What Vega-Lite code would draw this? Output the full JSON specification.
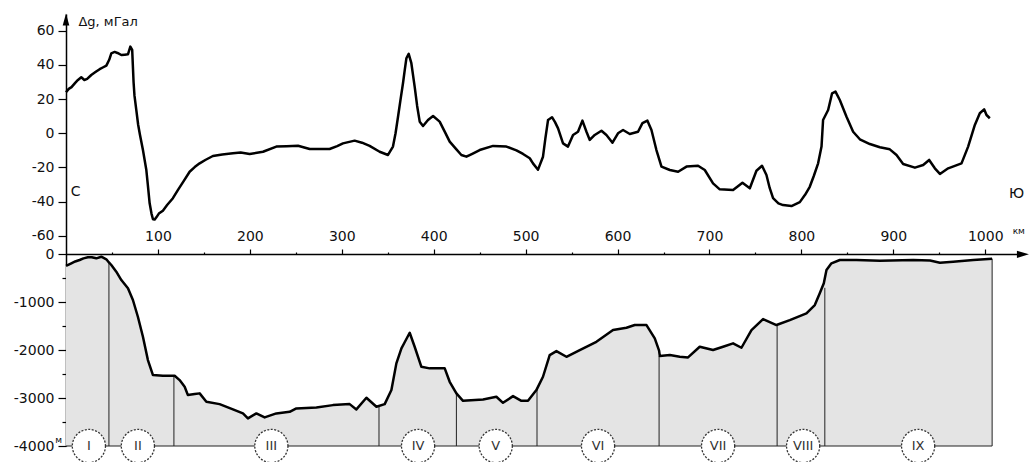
{
  "$schema": "https://vega.github.io/schema/vega-lite/v6.json",
  "width": 956,
  "height": 432,
  "autosize": "none",
  "padding": {"left": 66, "top": 14, "right": 8, "bottom": 16},
  "background": "white",
  "config": {
    "view": {"stroke": null},
    "axis": {"grid": false, "labelFont": "DejaVu Sans", "labelFontSize": 14, "labelColor": "#111", "domainColor": "#000", "tickColor": "#000"}
  },
  "datasets": {
    "one": [{}],
    "grav": [
      {"km": 0, "g": 24}, {"km": 3, "g": 26}, {"km": 6, "g": 27}, {"km": 10, "g": 29.5}, {"km": 13, "g": 31.2},
      {"km": 16.6, "g": 32.8}, {"km": 20, "g": 31.2}, {"km": 23, "g": 31.8}, {"km": 27.5, "g": 34.1}, {"km": 32, "g": 35.8},
      {"km": 36.6, "g": 37.5}, {"km": 40, "g": 38.5}, {"km": 43.9, "g": 39.6}, {"km": 47, "g": 43}, {"km": 49.3, "g": 46.8},
      {"km": 52.9, "g": 47.6}, {"km": 56, "g": 47}, {"km": 60.2, "g": 45.8}, {"km": 64, "g": 46}, {"km": 67.4, "g": 46.2},
      {"km": 70, "g": 50.7}, {"km": 72, "g": 48.8}, {"km": 73.5, "g": 30}, {"km": 74.5, "g": 22}, {"km": 76.5, "g": 13.6},
      {"km": 78.5, "g": 5}, {"km": 80.5, "g": -1}, {"km": 83.7, "g": -9.8}, {"km": 87.4, "g": -21.5}, {"km": 89, "g": -30},
      {"km": 91, "g": -41}, {"km": 93, "g": -47}, {"km": 94.6, "g": -50.3}, {"km": 96.5, "g": -50.5}, {"km": 98.3, "g": -49.2},
      {"km": 101, "g": -47}, {"km": 105.4, "g": -45.3}, {"km": 110, "g": -42}, {"km": 116.3, "g": -38}, {"km": 122, "g": -33},
      {"km": 128, "g": -28}, {"km": 134.5, "g": -22.5}, {"km": 140, "g": -19.8}, {"km": 145.4, "g": -17.6}, {"km": 152, "g": -15.5},
      {"km": 159.8, "g": -13.3}, {"km": 170, "g": -12.4}, {"km": 181.6, "g": -11.7}, {"km": 190, "g": -11.3}, {"km": 199.8, "g": -12.1},
      {"km": 214.3, "g": -10.8}, {"km": 228.8, "g": -7.8}, {"km": 240, "g": -7.6}, {"km": 252.4, "g": -7.3}, {"km": 265.1, "g": -9.2},
      {"km": 286.8, "g": -9.2}, {"km": 295, "g": -7.5}, {"km": 301.3, "g": -5.9}, {"km": 314, "g": -4.3}, {"km": 322, "g": -5.5},
      {"km": 330.3, "g": -7.4}, {"km": 341.2, "g": -10.8}, {"km": 350.3, "g": -12.7}, {"km": 355.7, "g": -7.8}, {"km": 358.5, "g": 0},
      {"km": 361.2, "g": 9.7}, {"km": 364, "g": 20}, {"km": 366.6, "g": 29.3}, {"km": 368.5, "g": 37}, {"km": 370.3, "g": 43.9},
      {"km": 372.8, "g": 46.5}, {"km": 375.7, "g": 41}, {"km": 379.3, "g": 27.3}, {"km": 382, "g": 16}, {"km": 384.8, "g": 6.8},
      {"km": 388.4, "g": 4.3}, {"km": 393.8, "g": 7.8}, {"km": 399.3, "g": 10.1}, {"km": 406.5, "g": 6.8}, {"km": 412, "g": 1},
      {"km": 417.4, "g": -4.9}, {"km": 424, "g": -9}, {"km": 430.1, "g": -12.7}, {"km": 435.6, "g": -13.7}, {"km": 442, "g": -12},
      {"km": 450, "g": -9.8}, {"km": 464.6, "g": -7.4}, {"km": 479.1, "g": -7.8}, {"km": 490, "g": -10}, {"km": 497.2, "g": -12.1},
      {"km": 504.5, "g": -14.6}, {"km": 508, "g": -17.6}, {"km": 513.5, "g": -21.3}, {"km": 518.9, "g": -13.7}, {"km": 521.5, "g": -3},
      {"km": 524.4, "g": 7.8}, {"km": 528.7, "g": 9.4}, {"km": 532, "g": 6.5}, {"km": 535.3, "g": 2.9}, {"km": 540.7, "g": -5.9},
      {"km": 546.1, "g": -7.8}, {"km": 551.6, "g": -1}, {"km": 557, "g": 0.9}, {"km": 561.8, "g": 7.4}, {"km": 566.2, "g": 0.9},
      {"km": 569.8, "g": -3.9}, {"km": 575.2, "g": -1}, {"km": 582.5, "g": 1.5}, {"km": 587.9, "g": -1}, {"km": 594.5, "g": -5.5},
      {"km": 600.5, "g": 0}, {"km": 606, "g": 1.9}, {"km": 613.3, "g": -0.4}, {"km": 622.3, "g": 0.9}, {"km": 627.1, "g": 5.9},
      {"km": 632.5, "g": 7.4}, {"km": 636.9, "g": 1.9}, {"km": 642.3, "g": -9.8}, {"km": 647.8, "g": -19.5}, {"km": 656.9, "g": -21.5},
      {"km": 665.9, "g": -22.5}, {"km": 675, "g": -19.5}, {"km": 687.6, "g": -19}, {"km": 694.9, "g": -21.5}, {"km": 703.9, "g": -29.3},
      {"km": 711.2, "g": -32.8}, {"km": 725.7, "g": -33.2}, {"km": 735.9, "g": -28.9}, {"km": 743.9, "g": -32.2}, {"km": 751.1, "g": -21.9},
      {"km": 757.2, "g": -19}, {"km": 762, "g": -24.4}, {"km": 765.5, "g": -32}, {"km": 769.2, "g": -38}, {"km": 775, "g": -41},
      {"km": 780.1, "g": -42}, {"km": 789.2, "g": -42.6}, {"km": 798.3, "g": -40.3}, {"km": 804, "g": -36}, {"km": 809.1, "g": -31.3},
      {"km": 813.5, "g": -25}, {"km": 818.2, "g": -17.6}, {"km": 821.9, "g": -7.8}, {"km": 823.6, "g": 7.8}, {"km": 829.1, "g": 13.6},
      {"km": 833.4, "g": 23.4}, {"km": 837.1, "g": 24.4}, {"km": 841.8, "g": 19.5}, {"km": 849.1, "g": 9.7}, {"km": 856.3, "g": 0.9},
      {"km": 863.6, "g": -3.5}, {"km": 874.5, "g": -6.3}, {"km": 885.4, "g": -8.2}, {"km": 896.2, "g": -9.4}, {"km": 903.5, "g": -12.7},
      {"km": 910.7, "g": -18}, {"km": 923.5, "g": -20.1}, {"km": 932.5, "g": -18.6}, {"km": 939, "g": -15.6}, {"km": 945.2, "g": -20.5},
      {"km": 950.7, "g": -23.8}, {"km": 959.7, "g": -20.5}, {"km": 974.2, "g": -17.6}, {"km": 981.4, "g": -7.8}, {"km": 988.7, "g": 4.9},
      {"km": 994.1, "g": 11.7}, {"km": 998.8, "g": 14}, {"km": 1001.4, "g": 10.7}, {"km": 1005, "g": 8.8}
    ],
    "bath": [
      {"km": 0, "depth": -244}, {"km": 5.8, "depth": -189}, {"km": 10, "depth": -150}, {"km": 14.8, "depth": -119}, {"km": 19, "depth": -85},
      {"km": 23.8, "depth": -63}, {"km": 28, "depth": -60}, {"km": 33, "depth": -84}, {"km": 38.4, "depth": -50}, {"km": 43.9, "depth": -104},
      {"km": 46.7, "depth": -170}, {"km": 49.3, "depth": -223}, {"km": 54.7, "depth": -363}, {"km": 60.2, "depth": -537}, {"km": 67.4, "depth": -710},
      {"km": 72.8, "depth": -954}, {"km": 78.2, "depth": -1303}, {"km": 83.7, "depth": -1721}, {"km": 89.1, "depth": -2207}, {"km": 94.6, "depth": -2520},
      {"km": 105.4, "depth": -2535}, {"km": 118.2, "depth": -2535}, {"km": 123.6, "depth": -2625}, {"km": 129.1, "depth": -2764}, {"km": 132.6, "depth": -2938},
      {"km": 140, "depth": -2917}, {"km": 145.4, "depth": -2902}, {"km": 152.7, "depth": -3078}, {"km": 167.1, "depth": -3126}, {"km": 181.6, "depth": -3237},
      {"km": 192.5, "depth": -3320}, {"km": 197.9, "depth": -3424}, {"km": 207.1, "depth": -3320}, {"km": 216.1, "depth": -3403}, {"km": 228.8, "depth": -3320},
      {"km": 243.3, "depth": -3287}, {"km": 250.6, "depth": -3216}, {"km": 272.4, "depth": -3195}, {"km": 290.4, "depth": -3147}, {"km": 308.6, "depth": -3126},
      {"km": 315.9, "depth": -3237}, {"km": 326.8, "depth": -2994}, {"km": 337.7, "depth": -3182}, {"km": 346.7, "depth": -3126}, {"km": 354, "depth": -2833},
      {"km": 359.4, "depth": -2276}, {"km": 364.9, "depth": -1963}, {"km": 368, "depth": -1850}, {"km": 373.9, "depth": -1637}, {"km": 379.3, "depth": -1929},
      {"km": 386.6, "depth": -2347}, {"km": 395.6, "depth": -2380}, {"km": 412, "depth": -2380}, {"km": 417.4, "depth": -2660}, {"km": 424.7, "depth": -2902},
      {"km": 431.9, "depth": -3057}, {"km": 453.7, "depth": -3028}, {"km": 468.2, "depth": -2973}, {"km": 475.4, "depth": -3099}, {"km": 486.3, "depth": -2959},
      {"km": 495.4, "depth": -3057}, {"km": 502.6, "depth": -3057}, {"km": 511.7, "depth": -2833}, {"km": 518.9, "depth": -2555}, {"km": 526.2, "depth": -2103},
      {"km": 533.5, "depth": -2019}, {"km": 544.4, "depth": -2138}, {"km": 558.9, "depth": -1998}, {"km": 577, "depth": -1825}, {"km": 595.1, "depth": -1581},
      {"km": 609.7, "depth": -1533}, {"km": 618.7, "depth": -1476}, {"km": 631.5, "depth": -1476}, {"km": 640.5, "depth": -1754}, {"km": 645.2, "depth": -2010},
      {"km": 646, "depth": -2124}, {"km": 656.9, "depth": -2103}, {"km": 667.7, "depth": -2138}, {"km": 676.7, "depth": -2151}, {"km": 689.4, "depth": -1929},
      {"km": 703.9, "depth": -1998}, {"km": 714.8, "depth": -1929}, {"km": 725.7, "depth": -1858}, {"km": 734.8, "depth": -1950}, {"km": 745.7, "depth": -1581},
      {"km": 758.3, "depth": -1351}, {"km": 772.9, "depth": -1476}, {"km": 787.4, "depth": -1372}, {"km": 805.5, "depth": -1232}, {"km": 814.6, "depth": -1059},
      {"km": 820, "depth": -814}, {"km": 824.4, "depth": -605}, {"km": 827.3, "depth": -328}, {"km": 832.7, "depth": -188}, {"km": 841.8, "depth": -119},
      {"km": 860, "depth": -119}, {"km": 885.4, "depth": -133}, {"km": 921.7, "depth": -119}, {"km": 940, "depth": -130}, {"km": 950.7, "depth": -175},
      {"km": 965.1, "depth": -154}, {"km": 987, "depth": -119}, {"km": 1007.5, "depth": -92}
    ],
    "div": [
      {"km": 46.7, "depth": -170}, {"km": 117.4, "depth": -2535}, {"km": 340.5, "depth": -3182}, {"km": 424.7, "depth": -2902},
      {"km": 512.4, "depth": -2800}, {"km": 645.2, "depth": -2124}, {"km": 773.6, "depth": -1476}, {"km": 825.5, "depth": -700},
      {"km": 1007.5, "depth": -92}
    ],
    "zones": [
      {"km": 24.9, "zone": "I"}, {"km": 78.2, "zone": "II"}, {"km": 223.4, "zone": "III"}, {"km": 383, "zone": "IV"},
      {"km": 467.5, "zone": "V"}, {"km": 578.8, "zone": "VI"}, {"km": 709.4, "zone": "VII"}, {"km": 801.9, "zone": "VIII"},
      {"km": 927, "zone": "IX"}
    ]
  },
  "resolve": {"scale": {"y": "independent"}, "axis": {"y": "independent"}},
  "layer": [
    {
      "layer": [
        {
          "data": {"name": "grav"},
          "mark": {"type": "line", "color": "#000", "strokeWidth": 2.5, "strokeJoin": "round"},
          "encoding": {
            "x": {"field": "km", "type": "quantitative", "scale": {"domain": [0, 1040], "nice": false, "zero": false},
              "axis": {"orient": "top", "offset": -240, "values": [50, 100, 150, 200, 250, 300, 350, 400, 450, 500, 550, 600, 650, 700, 750, 800, 850, 900, 950, 1000],
                "labelExpr": "datum.value % 100 === 0 ? '' + datum.value : ''",
                "tickSize": {"condition": {"test": "datum.value % 100 !== 0", "value": 2}, "value": 5},
                "labelPadding": 6, "domainWidth": 1.5, "tickWidth": 1.2, "title": null}},
            "y": {"field": "g", "type": "quantitative", "scale": {"domain": [-183, 69.8], "nice": false, "zero": false},
              "axis": {"orient": "left", "values": [-60, -50, -40, -30, -20, -10, 0, 10, 20, 30, 40, 50, 60],
                "labelExpr": "datum.value % 20 === 0 ? (datum.value < 0 ? '-' : '') + abs(datum.value) : ''",
                "tickSize": {"condition": {"test": "datum.value % 20 !== 0", "value": 4}, "value": 8},
                "labelPadding": 4, "domainWidth": 1.5, "tickWidth": 1.2, "title": null}}
          }
        },
        {
          "data": {"name": "one"},
          "mark": {"type": "text", "text": "Δg, мГал", "align": "left", "baseline": "middle", "font": "DejaVu Sans", "fontSize": 13, "color": "#111"},
          "encoding": {
            "x": {"datum": 13.5, "type": "quantitative", "scale": {"domain": [0, 1040], "nice": false, "zero": false}},
            "y": {"datum": 65, "type": "quantitative", "scale": {"domain": [-183, 69.8], "nice": false, "zero": false}}
          }
        },
        {
          "data": {"name": "one"},
          "mark": {"type": "text", "text": "С", "align": "center", "baseline": "middle", "font": "DejaVu Sans", "fontSize": 14, "color": "#111"},
          "encoding": {
            "x": {"datum": 10.5, "type": "quantitative", "scale": {"domain": [0, 1040], "nice": false, "zero": false}},
            "y": {"datum": -34.5, "type": "quantitative", "scale": {"domain": [-183, 69.8], "nice": false, "zero": false}}
          }
        },
        {
          "data": {"name": "one"},
          "mark": {"type": "text", "text": "Ю", "align": "center", "baseline": "middle", "font": "DejaVu Sans", "fontSize": 14, "color": "#111"},
          "encoding": {
            "x": {"datum": 1034, "type": "quantitative", "scale": {"domain": [0, 1040], "nice": false, "zero": false}},
            "y": {"datum": -35.6, "type": "quantitative", "scale": {"domain": [-183, 69.8], "nice": false, "zero": false}}
          }
        },
        {
          "data": {"name": "one"},
          "mark": {"type": "text", "text": "км", "align": "center", "baseline": "middle", "font": "DejaVu Sans", "fontSize": 9, "color": "#111"},
          "encoding": {
            "x": {"datum": 1036.5, "type": "quantitative", "scale": {"domain": [0, 1040], "nice": false, "zero": false}},
            "y": {"datum": -57, "type": "quantitative", "scale": {"domain": [-183, 69.8], "nice": false, "zero": false}}
          }
        },
        {
          "data": {"name": "one"},
          "mark": {"type": "point", "shape": "M0,-1L0.55,1L-0.55,1Z", "size": 144, "filled": true, "color": "#000", "opacity": 1},
          "encoding": {
            "x": {"datum": 0, "type": "quantitative", "scale": {"domain": [0, 1040], "nice": false, "zero": false}},
            "y": {"datum": 66.6, "type": "quantitative", "scale": {"domain": [-183, 69.8], "nice": false, "zero": false}}
          }
        }
      ]
    },
    {
      "layer": [
        {
          "data": {"name": "bath"},
          "mark": {"type": "area", "color": "#e4e4e4", "opacity": 1},
          "encoding": {
            "x": {"field": "km", "type": "quantitative", "scale": {"domain": [0, 1040], "nice": false, "zero": false}},
            "y": {"field": "depth", "type": "quantitative", "scale": {"domain": [-4000, 5014], "nice": false, "zero": false},
              "axis": {"orient": "left", "values": [-4000, -3500, -3000, -2500, -2000, -1500, -1000, -500, 0],
                "labelExpr": "datum.value % 1000 === 0 ? (datum.value < 0 ? '-' : '') + abs(datum.value) : ''",
                "tickSize": {"condition": {"test": "datum.value % 1000 !== 0", "value": 4}, "value": 8},
                "labelPadding": 4, "domain": false, "tickWidth": 1.2, "title": null}},
            "y2": {"datum": -4000}
          }
        },
        {
          "data": {"name": "div"},
          "mark": {"type": "rule", "color": "#222", "strokeWidth": 1},
          "encoding": {
            "x": {"field": "km", "type": "quantitative", "scale": {"domain": [0, 1040], "nice": false, "zero": false}},
            "y": {"field": "depth", "type": "quantitative", "scale": {"domain": [-4000, 5014], "nice": false, "zero": false}},
            "y2": {"datum": -4000}
          }
        },
        {
          "data": {"name": "one"},
          "mark": {"type": "rule", "color": "#222", "strokeWidth": 1.2},
          "encoding": {
            "x": {"datum": 0, "type": "quantitative", "scale": {"domain": [0, 1040], "nice": false, "zero": false}},
            "x2": {"datum": 1007.5},
            "y": {"datum": -4000, "type": "quantitative", "scale": {"domain": [-4000, 5014], "nice": false, "zero": false}}
          }
        },
        {
          "data": {"name": "bath"},
          "mark": {"type": "line", "color": "#000", "strokeWidth": 2.5, "strokeJoin": "round"},
          "encoding": {
            "x": {"field": "km", "type": "quantitative", "scale": {"domain": [0, 1040], "nice": false, "zero": false}},
            "y": {"field": "depth", "type": "quantitative", "scale": {"domain": [-4000, 5014], "nice": false, "zero": false}}
          }
        },
        {
          "data": {"name": "zones"},
          "mark": {"type": "point", "shape": "circle", "size": 1100, "fill": "white", "fillOpacity": 1, "stroke": "#333", "strokeWidth": 1.3, "strokeDash": [2, 1.5], "strokeOpacity": 1},
          "encoding": {
            "x": {"field": "km", "type": "quantitative", "scale": {"domain": [0, 1040], "nice": false, "zero": false}},
            "y": {"datum": -4000, "type": "quantitative", "scale": {"domain": [-4000, 5014], "nice": false, "zero": false}}
          }
        },
        {
          "data": {"name": "zones"},
          "mark": {"type": "text", "align": "center", "baseline": "middle", "font": "DejaVu Sans", "fontSize": 13, "color": "#333"},
          "encoding": {
            "x": {"field": "km", "type": "quantitative", "scale": {"domain": [0, 1040], "nice": false, "zero": false}},
            "y": {"datum": -4000, "type": "quantitative", "scale": {"domain": [-4000, 5014], "nice": false, "zero": false}},
            "text": {"field": "zone", "type": "nominal"}
          }
        },
        {
          "data": {"name": "one"},
          "mark": {"type": "text", "text": "м", "align": "center", "baseline": "middle", "font": "DejaVu Sans", "fontSize": 9, "color": "#111"},
          "encoding": {
            "x": {"datum": -8, "type": "quantitative", "scale": {"domain": [0, 1040], "nice": false, "zero": false}},
            "y": {"datum": -3877, "type": "quantitative", "scale": {"domain": [-4000, 5014], "nice": false, "zero": false}}
          }
        },
        {
          "data": {"name": "one"},
          "mark": {"type": "point", "shape": "M1,0L-1,-0.6L-1,0.6Z", "size": 144, "filled": true, "color": "#000", "opacity": 1},
          "encoding": {
            "x": {"datum": 1041, "type": "quantitative", "scale": {"domain": [0, 1040], "nice": false, "zero": false}},
            "y": {"datum": 0, "type": "quantitative", "scale": {"domain": [-4000, 5014], "nice": false, "zero": false}}
          }
        }
      ]
    }
  ]
}
